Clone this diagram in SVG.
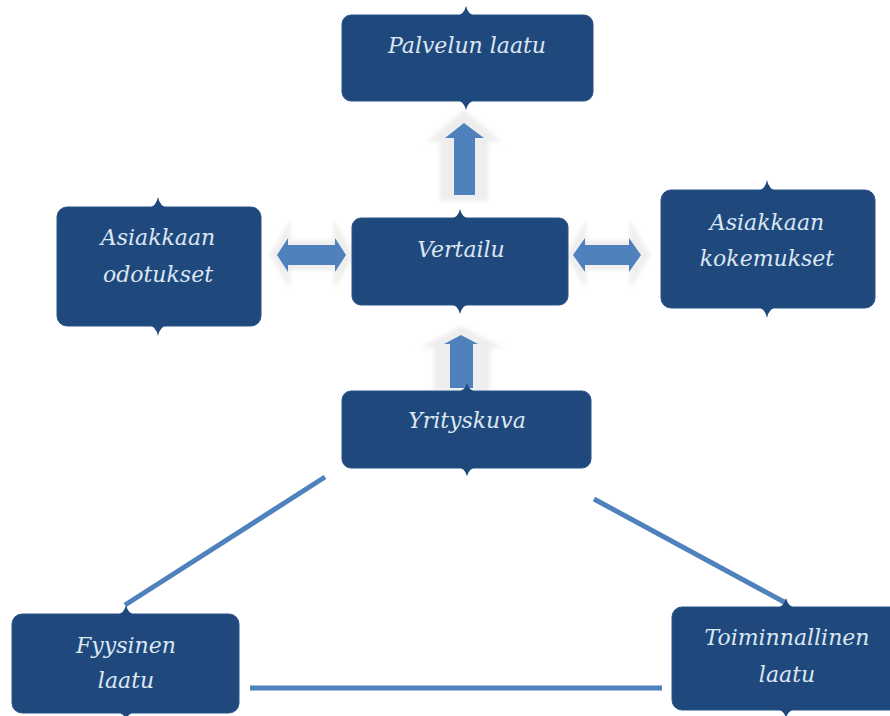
<svg xmlns="http://www.w3.org/2000/svg" width="890" height="716" viewBox="0 0 890 716">
  <defs>
    <filter id="soft" x="-20%" y="-20%" width="140%" height="140%">
      <feGaussianBlur stdDeviation="2"/>
    </filter>
  </defs>
  <style>
    .box { fill: #1f497d; stroke: #2a5587; stroke-width: 1; }
    .tip { fill: #1f497d; }
    .lbl { font-family: "DejaVu Serif", "Liberation Serif", serif; font-style: italic; font-size: 22px; fill: #dce6f2; text-anchor: middle; }
    .arrow { fill: #4f81bd; }
    .glow { fill: #eeeeee; filter: url(#soft); }
    .link { stroke: #4f81bd; stroke-width: 5; fill: none; }
  </style>

  <rect width="890" height="716" fill="#ffffff"/>

  <!-- connectors -->
  <g id="connectors">
    <!-- Vertailu -> Palvelun laatu -->
    <path class="glow" d="M464 110 L502 142 L488 142 L488 201 L440 201 L440 142 L426 142 Z"/>
    <path class="arrow" d="M464 123 L484 138 L475 138 L475 195 L454 195 L454 138 L445 138 Z"/>
    <!-- Yrityskuva -> Vertailu -->
    <path class="glow" d="M461 326 L504 348 L490 348 L490 391 L434 391 L434 348 L419 348 Z"/>
    <path class="arrow" d="M461 335 L478 344 L473 344 L473 388 L450 388 L450 344 L444 344 Z"/>
    <!-- Asiakkaan odotukset <-> Vertailu -->
    <path class="glow" d="M270 255 L290 220 L290 240 L334 240 L334 220 L354 255 L334 290 L334 270 L290 270 L290 290 Z"/>
    <path class="arrow" d="M277 255 L288 238 L288 245 L335 245 L335 238 L346 255 L335 272 L335 265 L288 265 L288 272 Z"/>
    <!-- Vertailu <-> Asiakkaan kokemukset -->
    <path class="glow" d="M566 255 L586 220 L586 240 L630 240 L630 220 L650 255 L630 290 L630 270 L586 270 L586 290 Z"/>
    <path class="arrow" d="M573 255 L585 238 L585 245 L629 245 L629 238 L641 255 L629 272 L629 265 L585 265 L585 272 Z"/>
    <!-- triangle links -->
    <line class="link" x1="325" y1="477" x2="125" y2="605"/>
    <line class="link" x1="594" y1="499" x2="786" y2="603"/>
    <line class="link" x1="250" y1="688" x2="662" y2="688"/>
  </g>

  <g id="palvelun-laatu">
    <rect class="box" x="342" y="15" width="251" height="86" rx="9"/>
    <path class="tip" d="M456 16 Q464 15 466 6 Q468 15 476 16 Z"/>
    <path class="tip" d="M456 100 Q464 101 466 110 Q468 101 476 100 Z"/>
    <text class="lbl" x="467" y="53">Palvelun laatu</text>
  </g>

  <g id="vertailu">
    <rect class="box" x="352" y="218" width="216" height="87" rx="9"/>
    <path class="tip" d="M450 219 Q458 218 460 209 Q462 218 470 219 Z"/>
    <path class="tip" d="M450 304 Q458 305 460 314 Q462 305 470 304 Z"/>
    <text class="lbl" x="461" y="257">Vertailu</text>
  </g>

  <g id="asiakkaan-odotukset">
    <rect class="box" x="57" y="207" width="204" height="119" rx="10"/>
    <path class="tip" d="M148 208 Q156 207 158 197 Q160 207 168 208 Z"/>
    <path class="tip" d="M148 325 Q156 326 158 336 Q160 326 168 325 Z"/>
    <text class="lbl" x="158" y="245">Asiakkaan</text>
    <text class="lbl" x="158" y="282">odotukset</text>
  </g>

  <g id="asiakkaan-kokemukset">
    <rect class="box" x="661" y="190" width="214" height="118" rx="10"/>
    <path class="tip" d="M757 191 Q765 190 767 180 Q769 190 777 191 Z"/>
    <path class="tip" d="M757 307 Q765 308 767 318 Q769 308 777 307 Z"/>
    <text class="lbl" x="767" y="230">Asiakkaan</text>
    <text class="lbl" x="767" y="266">kokemukset</text>
  </g>

  <g id="yrityskuva">
    <rect class="box" x="342" y="391" width="249" height="77" rx="9"/>
    <path class="tip" d="M457 392 Q465 391 467 383 Q469 391 477 392 Z"/>
    <path class="tip" d="M457 467 Q465 468 467 476 Q469 468 477 467 Z"/>
    <text class="lbl" x="467" y="428">Yrityskuva</text>
  </g>

  <g id="fyysinen-laatu">
    <rect class="box" x="12" y="614" width="227" height="99" rx="10"/>
    <path class="tip" d="M116 615 Q124 614 126 605 Q128 614 136 615 Z"/>
    <path class="tip" d="M116 712 Q124 713 126 720 Q128 713 136 712 Z"/>
    <text class="lbl" x="126" y="653">Fyysinen</text>
    <text class="lbl" x="126" y="688">laatu</text>
  </g>

  <g id="toiminnallinen-laatu">
    <rect class="box" x="672" y="607" width="228" height="103" rx="10"/>
    <path class="tip" d="M776 608 Q784 607 786 598 Q788 607 796 608 Z"/>
    <path class="tip" d="M776 709 Q784 710 786 718 Q788 710 796 709 Z"/>
    <text class="lbl" x="787" y="645">Toiminnallinen</text>
    <text class="lbl" x="787" y="682">laatu</text>
  </g>
</svg>
